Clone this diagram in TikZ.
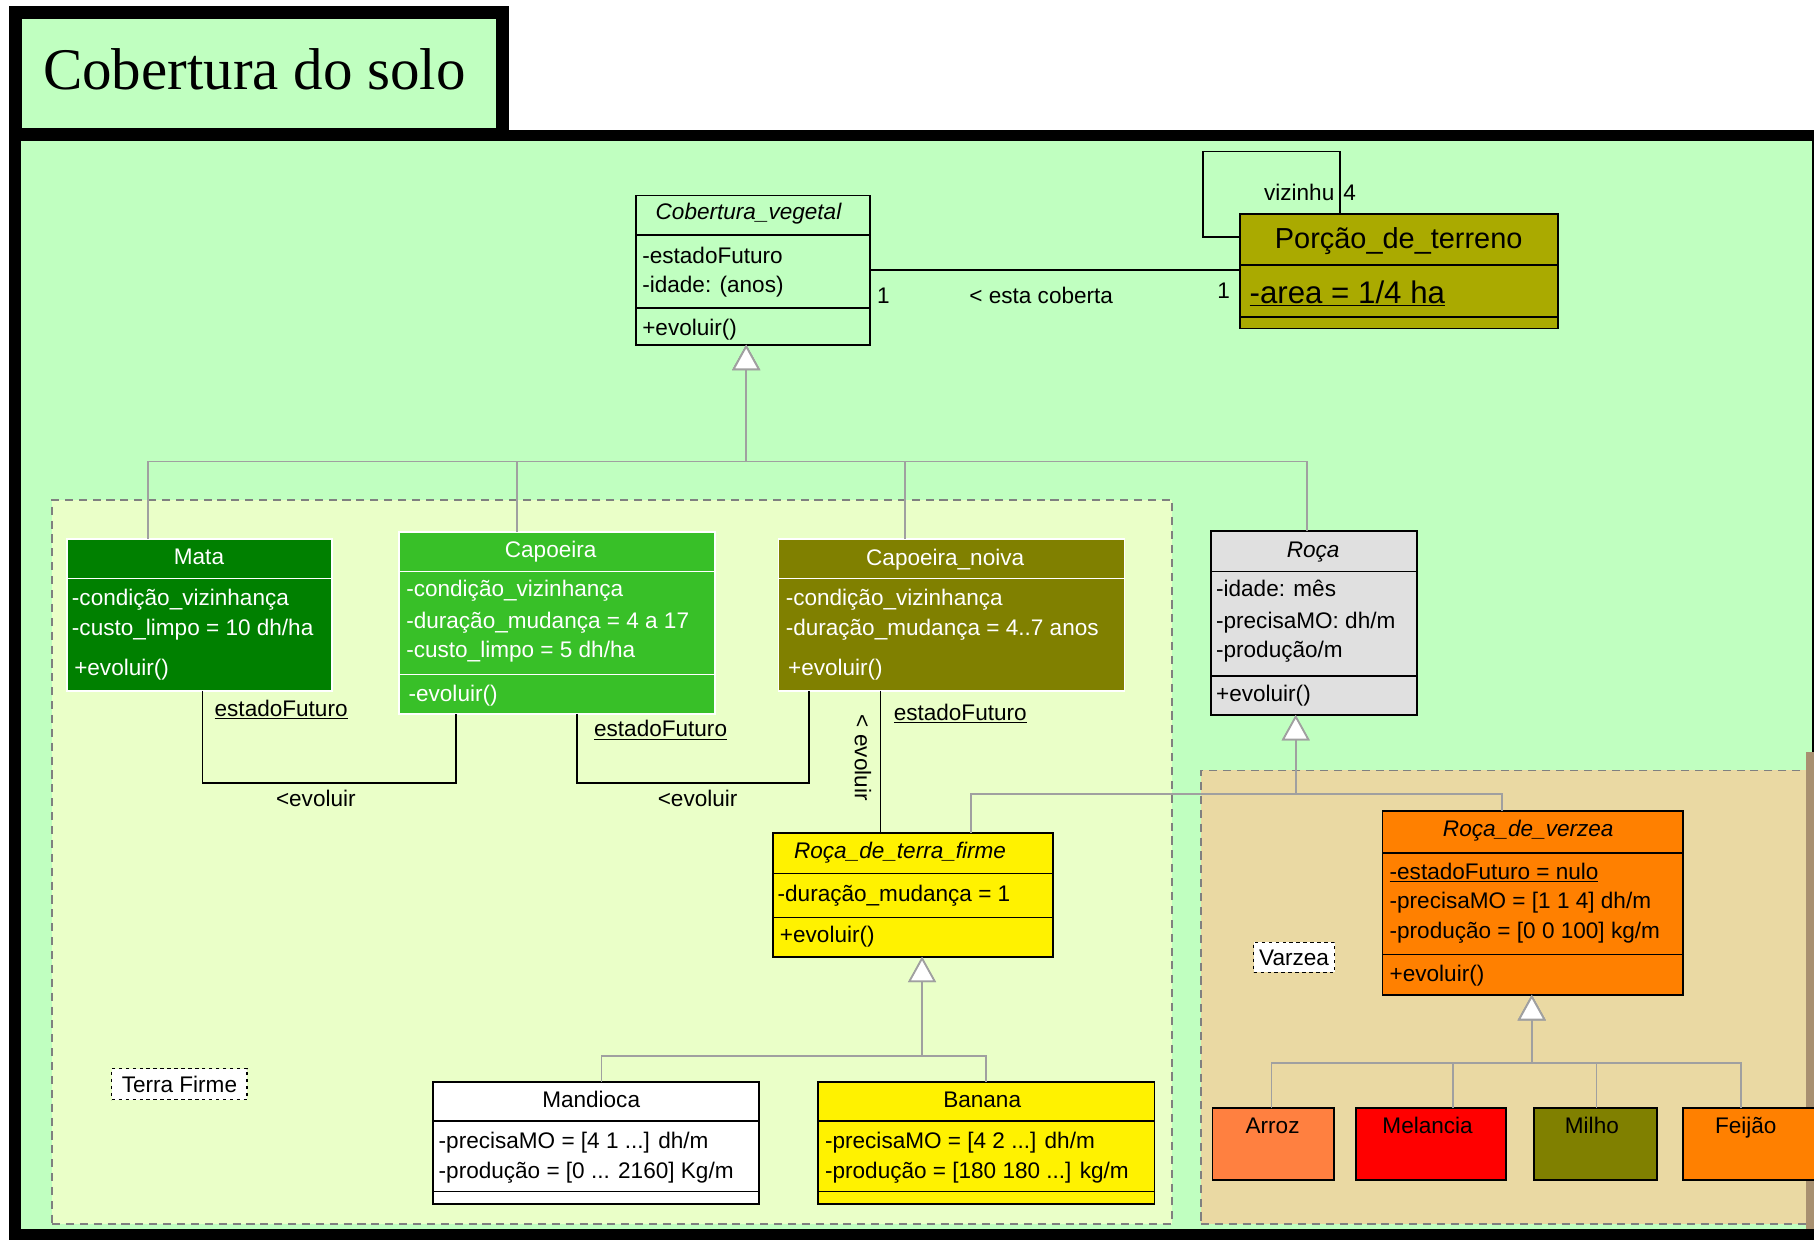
\documentclass[tikz,border=0pt]{standalone}
\usepackage{fontspec}
\setmainfont{Liberation Sans}
\newfontfamily\titlefont{Liberation Serif}
\usetikzlibrary{arrows.meta}
\definecolor{bggreen}{HTML}{C0FFC0}
\definecolor{tfbg}{HTML}{EAFFC8}
\definecolor{vzbg}{HTML}{EAD9A3}
\definecolor{ptfill}{HTML}{AAAA00}
\definecolor{matafill}{HTML}{008000}
\definecolor{capfill}{HTML}{38C028}
\definecolor{olivfill}{HTML}{808000}
\definecolor{rocafill}{HTML}{E0E0E0}
\definecolor{arrozfill}{HTML}{FF8040}
\definecolor{orangefill}{HTML}{FF8000}
\definecolor{genGray}{HTML}{A0A0A0}
\definecolor{dashgray}{HTML}{808080}
\definecolor{brownstrip}{HTML}{A89070}
\tikzset{
  region/.style={draw=dashgray, line width=1.5pt, dash pattern=on 7pt off 5pt, anchor=north west, inner sep=0pt, outer sep=0pt},
  cls/.style={draw=black, line width=1.5pt, anchor=north west, inner sep=0pt, outer sep=0pt},
  txt/.style={font=\fontsize{19.5}{24}\selectfont, inner sep=0pt, anchor=base west},
  ctxt/.style={txt, anchor=base},
  itxt/.style={font=\fontsize{19.5}{24}\selectfont\itshape, inner sep=0pt, anchor=base},
  gen/.style={draw=genGray, line width=1.5pt, -{Triangle[length=22pt,width=24pt,fill=white]}},
  assoc/.style={draw=black, line width=1.5pt},
  note/.style={draw=black, fill=white, dashed, line width=1.2pt, anchor=north west, inner sep=0pt, font=\fontsize{19.5}{24}\selectfont},
}
\newcommand{\csep}[3][black]{\draw[#1, line width=1.5pt] (#2.west |- 0,#3) -- (#2.east |- 0,#3);}
\begin{document}
\begin{tikzpicture}[x=1pt,y=-1pt]
\useasboundingbox (0,0) rectangle (1568,1071);
\fill[white] (0,0) rectangle (1568,1071);
% frame and title tab
\node[draw=black, line width=10pt, fill=bggreen, anchor=north west, inner sep=0pt, outer sep=0pt, minimum width=1558pt, minimum height=950pt] (frame) at (13,117) {};
\node[draw=black, line width=11pt, fill=bggreen, anchor=north west, inner sep=0pt, outer sep=0pt, minimum width=421pt, minimum height=106pt] (tab) at (13.5,10.5) {};
\node[anchor=base west, inner sep=0pt, font=\titlefont\fontsize{51}{51}\selectfont] (title) at (37,77) {Cobertura do solo};
% regions
\node[region, fill=tfbg, minimum width=968pt, minimum height=626pt] (tf) at (45,432) {};
\node[region, fill=vzbg, minimum width=537pt, minimum height=392pt] (vz) at (1038,666) {};
\fill[brownstrip] (1561,650) rectangle (1568,1062);
\node[note, minimum width=117pt, minimum height=27pt] (tfnote) at (96,923) {Terra Firme};
\node[note, minimum width=70pt, minimum height=26pt] (vznote) at (1083,814) {Varzea};

% ---------- classes ----------
% Cobertura_vegetal
\node[cls, fill=bggreen, minimum width=202pt, minimum height=129pt] (cv) at (550,169) {};
\csep{cv}{203}\csep{cv}{266}
\node[itxt] (cvn) at (647,190) {Cobertura\_vegetal};
\node[txt] (cva1) at (555,228) {-estadoFuturo};
\node[txt] (cva2) at (555,253) {-idade: (anos)};
\node[txt] (cvm1) at (555,290) {+evoluir()};

% Porcao_de_terreno
\node[cls, fill=ptfill, minimum width=275pt, minimum height=99pt] (pt) at (1072,185) {};
\csep{pt}{229}\csep{pt}{274}
\node[ctxt, font=\fontsize{25}{30}\selectfont] (ptn) at (1209,215) {Porção\_de\_terreno};
\node[txt, font=\fontsize{27}{30}\selectfont] (pta) at (1080,262) {\underline{-area = 1/4 ha}};

% Mata
\node[cls, draw=white, fill=matafill, minimum width=229pt, minimum height=131pt] (mata) at (58,466) {};
\csep[white]{mata}{500}
\node[ctxt, text=white] (matan) at (172,488) {Mata};
\node[txt, text=white] (mataa1) at (62,523) {-condição\_vizinhança};
\node[txt, text=white] (mataa2) at (62,549) {-custo\_limpo = 10 dh/ha};
\node[txt, text=white] (matam1) at (64,584) {+evoluir()};

% Capoeira
\node[cls, draw=white, fill=capfill, minimum width=273pt, minimum height=157pt] (cap) at (345,460) {};
\csep[white]{cap}{494}\csep[white]{cap}{583}
\node[ctxt, text=white] (capn) at (476,482) {Capoeira};
\node[txt, text=white] (capa1) at (351,516) {-condição\_vizinhança};
\node[txt, text=white] (capa2) at (351,543) {-duração\_mudança = 4 a 17};
\node[txt, text=white] (capa3) at (351,568) {-custo\_limpo = 5 dh/ha};
\node[txt, text=white] (capm1) at (353,606) {-evoluir()};

% Capoeira_noiva
\node[cls, draw=white, fill=olivfill, minimum width=299pt, minimum height=131pt] (cn) at (673,466) {};
\csep[white]{cn}{500}
\node[ctxt, text=white] (cnn) at (817,489) {Capoeira\_noiva};
\node[txt, text=white] (cna1) at (679,523) {-condição\_vizinhança};
\node[txt, text=white] (cna2) at (679,549) {-duração\_mudança = 4..7 anos};
\node[txt, text=white] (cnm1) at (681,584) {+evoluir()};

% Roca
\node[cls, fill=rocafill, minimum width=178pt, minimum height=159pt] (roca) at (1047,459) {};
\csep{roca}{494}\csep{roca}{584}
\node[itxt] (rocan) at (1135,482) {Roça};
\node[txt] (rocaa1) at (1051,516) {-idade: mês};
\node[txt] (rocaa2) at (1051,543) {-precisaMO: dh/m};
\node[txt] (rocaa3) at (1051,568) {-produção/m};
\node[txt] (rocam1) at (1051,606) {+evoluir()};

% Roca_de_terra_firme
\node[cls, fill=yellow, minimum width=242pt, minimum height=107pt] (rtf) at (668,720) {};
\csep{rtf}{755}\csep{rtf}{793}
\node[itxt] (rtfn) at (778,742) {Roça\_de\_terra\_firme};
\node[txt] (rtfa1) at (672,779) {-duração\_mudança = 1};
\node[txt] (rtfm1) at (674,815) {+evoluir()};

% Mandioca
\node[cls, fill=white, minimum width=282pt, minimum height=106pt] (man) at (374,935) {};
\csep{man}{969}\csep{man}{1030}
\node[ctxt] (mann) at (511,957) {Mandioca};
\node[txt] (mana1) at (379,993) {-precisaMO = [4 1 ...] dh/m};
\node[txt] (mana2) at (379,1019) {-produção = [0 ... 2160] Kg/m};

% Banana
\node[cls, fill=yellow, minimum width=291pt, minimum height=106pt] (ban) at (707,935) {};
\csep{ban}{969}\csep{ban}{1030}
\node[ctxt] (bann) at (849,957) {Banana};
\node[txt] (bana1) at (713,993) {-precisaMO = [4 2 ...] dh/m};
\node[txt] (bana2) at (713,1019) {-produção = [180 180 ...] kg/m};

% Roca_de_verzea
\node[cls, fill=orangefill, minimum width=260pt, minimum height=159pt] (rv) at (1195,701) {};
\csep{rv}{737}\csep{rv}{825}
\node[itxt] (rvn) at (1321,723) {Roça\_de\_verzea};
\node[txt] (rva1) at (1201,760) {\underline{-estadoFuturo = nulo}};
\node[txt] (rva2) at (1201,785) {-precisaMO = [1 1 4] dh/m};
\node[txt] (rva3) at (1201,811) {-produção = [0 0 100] kg/m};
\node[txt] (rvm1) at (1201,848) {+evoluir()};

% crops
\node[cls, fill=arrozfill, minimum width=105pt, minimum height=62pt] (arroz) at (1048,958) {};
\node[ctxt] (arrozn) at (1100,980) {Arroz};
\node[cls, fill=red, minimum width=130pt, minimum height=62pt] (mel) at (1172,958) {};
\node[ctxt] (meln) at (1234,980) {Melancia};
\node[cls, fill=olivfill, minimum width=106pt, minimum height=62pt] (milho) at (1326,958) {};
\node[ctxt] (milhon) at (1376,980) {Milho};
\node[cls, fill=orangefill, minimum width=120pt, minimum height=62pt] (feijao) at (1455,958) {};
\node[ctxt] (feijaon) at (1509,980) {Feijão};

% ---------- generalizations ----------
\coordinate (j1) at (645,399);
\draw[gen] (mata.north -| 128,0) |- (j1) -- (cv.south -| j1);
\draw[gen] (cap.north -| 447,0) |- (j1) -- (cv.south -| j1);
\draw[gen] (cn.north -| 782,0) |- (j1) -- (cv.south -| j1);
\draw[gen] (roca.north -| 1130,0) |- (j1) -- (cv.south -| j1);
\coordinate (j2) at (1120,686);
\draw[gen] (rtf.north -| 839,0) |- (j2) -- (roca.south -| j2);
\draw[gen] (rv.north -| 1298,0) |- (j2) -- (roca.south -| j2);
\coordinate (j3) at (797,913);
\draw[gen] (man.north -| 520,0) |- (j3) -- (rtf.south -| j3);
\draw[gen] (ban.north -| 852,0) |- (j3) -- (rtf.south -| j3);
\coordinate (j4) at (1324,919);
\draw[gen] (arroz.north -| 1099,0) |- (j4) -- (rv.south -| j4);
\draw[gen] (mel.north -| 1256,0) |- (j4) -- (rv.south -| j4);
\draw[gen] (milho.north -| 1380,0) |- (j4) -- (rv.south -| j4);
\draw[gen] (feijao.north -| 1505,0) |- (j4) -- (rv.south -| j4);

% ---------- associations ----------
\draw[assoc] (cv.east) -- (pt.west |- cv.east);
\node[txt] (m1) at (758,262) {1};
\node[ctxt] (estac) at (900,262) {< esta coberta};
\node[txt] (m2) at (1052,258) {1};
\draw[assoc] ([yshift=-20pt]pt.north west) -| (1040,131) -| (pt.north -| 1158,0);
\node[ctxt] (viz) at (1123,173) {vizinhu};
\node[txt] (m4) at (1161,173) {4};

\draw[assoc] (mata.south -| 175,0) -- (175,677) -- (394,677) -- (cap.south -| 394,0);
\node[ctxt] (ef1) at (243,619) {\underline{estadoFuturo}};
\node[ctxt] (ev1) at (273,697) {<evoluir};
\draw[assoc] (cap.south -| 499,0) -- (499,677) -- (699,677) -- (cn.south -| 699,0);
\node[ctxt] (ef2) at (571,637) {\underline{estadoFuturo}};
\node[ctxt] (ev2) at (603,697) {<evoluir};
\draw[assoc] (cn.south -| 761,0) -- (rtf.north -| 761,0);
\node[ctxt] (ef3) at (830,623) {\underline{estadoFuturo}};
\node[txt, anchor=center, rotate=-90] (ev3) at (746,655) {< evoluir};
\end{tikzpicture}
\end{document}
